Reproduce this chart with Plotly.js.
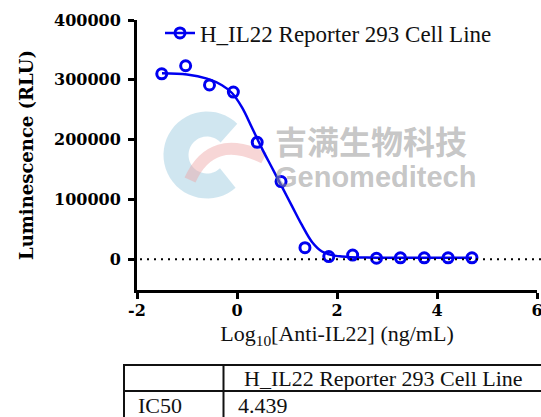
<!DOCTYPE html>
<html>
<head>
<meta charset="utf-8">
<script src="https://cdn.plot.ly/plotly-3.0.1.min.js"></script>
<style>html,body{margin:0;padding:0;background:#fff;}#chart{width:541px;height:417px;}</style>
</head>
<body>
<div id="chart"></div>
<script>
// Measured points: log10 concentration (ng/mL) and luminescence (RLU)
const logConc = [-1.505, -1.027, -0.550, -0.073, 0.404, 0.881, 1.359, 1.836, 2.313, 2.790, 3.268, 3.745, 4.222, 4.699];
const lum = [310000, 323500, 291500, 279500, 195500, 130000, 19500, 4500, 7000, 1800, 2500, 2500, 2500, 2500];

// Fitted curve
const fitX = [-1.5, -1.0, -0.6, -0.3, -0.1, 0.1, 0.3, 0.5, 0.7, 0.9, 1.1, 1.3, 1.5, 1.7, 1.9, 2.2, 2.6, 3.2, 4.0, 4.7];
const fitY = [311000, 309000, 302000, 291000, 278000, 254000, 220000, 185000, 153000, 121000, 89000, 57000, 29000, 13000, 7000, 4000, 3000, 2600, 2500, 2500];

const seriesName = 'H_IL22 Reporter 293 Cell Line';
const xTickVals = [-2, 0, 2, 4, 6];
const xTickText = ['-2', '0', '2', '4', '6'];
const yTickVals = [0, 100000, 200000, 300000, 400000];
const yTickText = ['0', '100000', '200000', '300000', '400000'];

const tableHeader = ['', 'H_IL22 Reporter 293 Cell Line'];
const tableRowLabel = 'IC50';
const tableRowValue = '4.439';

const BLUE = '#0000f0';
const SERIF = 'Liberation Serif';
const SERIF_BOLD = 'DejaVu Serif';

// layout helpers: pixel -> paper
const W = 541, H = 417, ML = 137, MR = 4, MT = 20, MB = 127;
const PW = W - ML - MR, PH = H - MT - MB;
const px = v => (v - ML) / PW;
const py = v => (H - MB - v) / PH;

// watermark logo (decoration)
function arcPath(cx, cy, r, a0, a1, n) {
  let d = '';
  for (let i = 0; i <= n; i++) {
    const a = (a0 + (a1 - a0) * i / n) * Math.PI / 180;
    const X = px(cx + r * Math.cos(a)), Y = py(cy + r * Math.sin(a));
    d += (i === 0 ? 'M' : 'L') + X.toFixed(4) + ',' + Y.toFixed(4);
  }
  return d;
}
const pinkPath = 'M' + px(190) + ',' + py(180) + ' Q' + px(212) + ',' + py(132) + ' ' + px(264) + ',' + py(158);

const traces = [
  {
    x: fitX, y: fitY, mode: 'lines', type: 'scatter',
    line: {color: BLUE, width: 2.5, shape: 'spline', smoothing: 1},
    showlegend: false, hoverinfo: 'skip'
  },
  {
    x: logConc, y: lum, mode: 'markers', type: 'scatter',
    marker: {symbol: 'circle-open', size: 10, color: BLUE, line: {color: BLUE, width: 3}},
    showlegend: false
  },
  {
    x: [null], y: [null], mode: 'lines+markers', type: 'scatter', name: seriesName,
    line: {color: BLUE, width: 2.5},
    marker: {symbol: 'circle-open', size: 10, color: BLUE, line: {color: BLUE, width: 3}}
  }
];

const axisCommon = {
  showline: true, linecolor: '#000', linewidth: 3, mirror: false,
  ticks: 'outside', ticklen: 6, tickwidth: 3, tickcolor: '#000',
  showgrid: false, zeroline: false, fixedrange: true,
  ticklabeloverflow: 'allow',
  tickfont: {family: SERIF_BOLD, size: 16, color: '#000', weight: 700}
};

const layout = {
  width: W, height: H,
  margin: {l: ML, r: MR, t: MT, b: MB, pad: 0},
  paper_bgcolor: '#fff', plot_bgcolor: 'rgba(0,0,0,0)',
  showlegend: true,
  legend: {
    x: px(160), y: py(33), xanchor: 'left', yanchor: 'middle',
    bgcolor: 'rgba(0,0,0,0)', borderwidth: 0,
    font: {family: SERIF, size: 23, color: '#111'}
  },
  xaxis: Object.assign({}, axisCommon, {
    range: [-2, 6], tickvals: xTickVals, ticktext: xTickText,
    ticklabelstandoff: -2,
    title: {text: 'Log<sub>10</sub>[Anti-IL22] (ng/mL)', standoff: 7,
            font: {family: SERIF, size: 22, color: '#111'}}
  }),
  yaxis: Object.assign({}, axisCommon, {
    range: [-51300, 400000], tickvals: yTickVals, ticktext: yTickText,
    ticklabelstandoff: 4,
    title: {text: 'Luminescence (RLU)', standoff: 16,
            font: {family: SERIF_BOLD, size: 18, color: '#000', weight: 700}}
  }),
  shapes: [
    // watermark logo
    {type: 'path', xref: 'paper', yref: 'paper', layer: 'below', path: arcPath(207, 155, 31, -45, -312, 40),
     line: {color: 'rgba(150,200,222,0.45)', width: 25}},
    {type: 'path', xref: 'paper', yref: 'paper', layer: 'below', path: pinkPath,
     line: {color: 'rgba(238,165,165,0.45)', width: 12}},
    // dotted zero line
    {type: 'line', xref: 'paper', yref: 'y', x0: px(140), x1: px(541), y0: 0, y1: 0,
     line: {color: '#000', width: 2, dash: '2px,5px'}},
    // table lines
    {type: 'line', xref: 'paper', yref: 'paper', x0: px(123), x1: px(545), y0: py(365), y1: py(365), line: {color: '#111', width: 2}},
    {type: 'line', xref: 'paper', yref: 'paper', x0: px(123), x1: px(545), y0: py(391), y1: py(391), line: {color: '#111', width: 2}},
    {type: 'line', xref: 'paper', yref: 'paper', x0: px(124), x1: px(124), y0: py(364), y1: py(420), line: {color: '#111', width: 2}},
    {type: 'line', xref: 'paper', yref: 'paper', x0: px(223.5), x1: px(223.5), y0: py(364), y1: py(420), line: {color: '#111', width: 2}}
  ],
  annotations: [
    {xref: 'paper', yref: 'paper', x: px(371), y: py(140), text: '吉满生物科技', showarrow: false,
     font: {family: 'Noto Sans CJK SC', size: 32, color: 'rgba(150,150,150,0.55)', weight: 700}},
    {xref: 'paper', yref: 'paper', x: px(375), y: py(177), text: 'Genomeditech', showarrow: false,
     font: {family: 'Liberation Sans', size: 29, color: 'rgba(150,150,150,0.55)', weight: 700}},
    {xref: 'paper', yref: 'paper', x: px(242), y: py(379), xanchor: 'left', yanchor: 'middle', text: tableHeader[1], showarrow: false,
     font: {family: SERIF, size: 22, color: '#111'}},
    {xref: 'paper', yref: 'paper', x: px(136), y: py(405), xanchor: 'left', yanchor: 'middle', text: tableRowLabel, showarrow: false,
     font: {family: SERIF, size: 22, color: '#111'}},
    {xref: 'paper', yref: 'paper', x: px(236), y: py(405), xanchor: 'left', yanchor: 'middle', text: tableRowValue, showarrow: false,
     font: {family: SERIF, size: 22, color: '#111'}}
  ]
};

Plotly.newPlot('chart', traces, layout, {displayModeBar: false, staticPlot: true});
</script>
</body>
</html>
